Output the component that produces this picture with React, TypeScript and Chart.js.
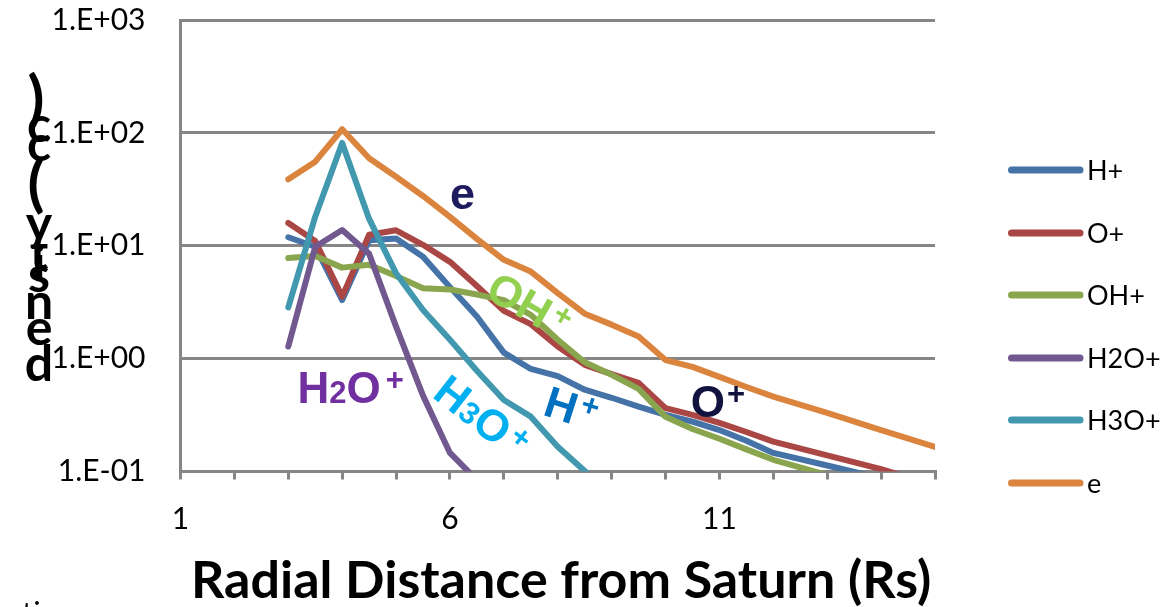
import { useEffect, useRef } from "react";
import { Chart, registerables } from "chart.js";

Chart.register(...registerables);

// ---- data ----
const radius = [3, 3.5, 4, 4.5, 5, 5.5, 6, 6.5, 7, 7.5, 8, 8.5, 9, 9.5, 10, 10.5, 11, 11.5, 12, 13, 14, 15];
const hPlus = [11.9, 9.8, 3.3, 11.2, 11.6, 8.0, 4.3, 2.36, 1.13, 0.81, 0.7, 0.53, 0.45, 0.376, 0.317, 0.277, 0.233, 0.187, 0.146, 0.113, 0.087, null];
const oPlus = [15.9, 11.0, 3.54, 12.5, 13.7, 10.2, 7.2, 4.4, 2.65, 2.02, 1.28, 0.88, 0.73, 0.61, 0.364, 0.317, 0.27, 0.224, 0.184, 0.139, 0.105, 0.075];
const ohPlus = [7.8, 8.1, 6.4, 6.8, 5.4, 4.2, 4.1, 3.7, 3.3, 2.44, 1.47, 0.93, 0.72, 0.54, 0.305, 0.238, 0.195, 0.157, 0.127, 0.093, 0.07, null];
const h2oPlus = [1.28, 9.8, 13.8, 8.5, 1.92, 0.47, 0.146, 0.084, null, null, null, null, null, null, null, null, null, null, null, null, null, null];
const h3oPlus = [2.84, 18.1, 81.4, 17.3, 5.7, 2.7, 1.47, 0.78, 0.43, 0.306, 0.166, 0.101, 0.06, null, null, null, null, null, null, null, null, null];
const electrons = [38.8, 55.6, 107.6, 59.6, 40.9, 27.6, 18, 11.5, 7.5, 5.9, 3.8, 2.5, 2.0, 1.57, 0.97, 0.845, 0.69, 0.56, 0.46, 0.33, 0.233, 0.165];

const seriesNames = ["H+", "O+", "OH+", "H2O+", "H3O+", "e"];
const seriesValues = [hPlus, oPlus, ohPlus, h2oPlus, h3oPlus, electrons];
const seriesColors = ["#4572A7", "#AA4643", "#89A54E", "#71588F", "#4198AF", "#DB843D"];

const yTickValues = [0.1, 1, 10, 100, 1000];
const yTickLabels = ["1.E-01", "1.E+00", "1.E+01", "1.E+02", "1.E+03"];
const xLabelValues = [1, 6, 11];

const xTitle = "Radial Distance from Saturn (Rs)";
const yTitle = "density (cc)";

// in-plot labels (anchored in data coordinates)
const annotations = [
  { color: "#1E1B5E", x: 6.0, y: 21.0, angle: 0, parts: [{ t: "e", s: 45 }] },
  { color: "#12123F", x: 10.47, y: 0.306, angle: 0, parts: [{ t: "O", s: 44 }, { t: "+", s: 31, dy: -13, gap: 2 }] },
  { color: "#7030A0", x: 3.17, y: 0.405, angle: 0, parts: [{ t: "H", s: 44 }, { t: "2", s: 31 }, { t: "O", s: 44 }, { t: "+", s: 31, dy: -13, gap: 5 }] },
  { color: "#92D050", x: 6.62, y: 3.56, angle: 30, parts: [{ t: "O", s: 44 }, { t: "H", s: 44 }, { t: "+", s: 31, dy: -13, gap: 4 }] },
  { color: "#00B0F0", x: 5.65, y: 0.462, angle: 38, parts: [{ t: "H", s: 44 }, { t: "3", s: 31 }, { t: "O", s: 44 }, { t: "+", s: 31, dy: -13, gap: 4 }] },
  { color: "#0070C0", x: 7.7, y: 0.32, angle: 18, parts: [{ t: "H", s: 44 }, { t: "+", s: 31, dy: -13, gap: 3 }] },
];

const GRAY = "#868686";

const decorPlugin = {
  id: "decor",
  afterDraw(chart: any) {
    const ctx: CanvasRenderingContext2D = chart.ctx;
    const xs = chart.scales.x;
    const ys = chart.scales.y;

    // annotations
    for (const a of annotations) {
      const px = xs.getPixelForValue(a.x);
      const py = ys.getPixelForValue(a.y);
      ctx.save();
      ctx.translate(px, py);
      ctx.rotate((a.angle * Math.PI) / 180);
      ctx.fillStyle = a.color;
      ctx.textAlign = "left";
      ctx.textBaseline = "alphabetic";
      let cx = 0;
      for (const p of a.parts as any[]) {
        ctx.font = `bold ${p.s}px "Liberation Sans", Arial, sans-serif`;
        cx += p.gap || 0;
        ctx.fillText(p.t, cx, p.dy || 0);
        cx += ctx.measureText(p.t).width;
      }
      ctx.restore();
    }

    // legend
    const legendY = [170, 233, 295, 358, 420, 483];
    ctx.save();
    seriesNames.forEach((name, i) => {
      const y = legendY[i];
      ctx.strokeStyle = seriesColors[i];
      ctx.lineWidth = 7;
      ctx.lineCap = "round";
      ctx.beginPath();
      ctx.moveTo(1011.5, y);
      ctx.lineTo(1080, y);
      ctx.stroke();
      ctx.fillStyle = "#000";
      ctx.font = '27px Lato, "Liberation Sans", sans-serif';
      ctx.textAlign = "left";
      ctx.textBaseline = "alphabetic";
      ctx.fillText(name, 1087, y + 10);
    });
    ctx.restore();

    // x axis title
    ctx.save();
    ctx.fillStyle = "#000";
    ctx.font = 'bold 52px Lato, "Liberation Sans", sans-serif';
    ctx.textAlign = "left";
    ctx.textBaseline = "alphabetic";
    ctx.fillText(xTitle, 191, 598);
    ctx.restore();

    // garbled vertical y title (glyphs stacked bottom to top)
    const centers = [362, 332, 306, 279, 262, 253, 232, 210, 185, 148, 129, 100];
    ctx.save();
    ctx.fillStyle = "#000";
    ctx.textAlign = "center";
    ctx.textBaseline = "alphabetic";
    const chars = yTitle.split("");
    chars.forEach((ch, i) => {
      if (ch === " ") return;
      const paren = ch === "(" || ch === ")";
      ctx.font = `bold ${paren ? 62 : 50}px Lato, "Liberation Sans", sans-serif`;
      const m = ctx.measureText(ch);
      const asc = m.actualBoundingBoxAscent;
      const desc = m.actualBoundingBoxDescent;
      const cy = centers[i];
      ctx.fillText(ch, paren ? 36 : 39, cy + (asc - desc) / 2);
    });
    ctx.restore();

    // clipped fragment at bottom-left
    ctx.save();
    ctx.fillStyle = "#000";
    ctx.font = '30px Lato, "Liberation Sans", sans-serif';
    ctx.fillText("ti", 22, 624);
    ctx.restore();
  },
};

export default function App() {
  const ref = useRef<HTMLCanvasElement>(null);
  useEffect(() => {
    document.body.style.margin = "0";
    const datasets = seriesNames.map((name, i) => ({
      label: name,
      data: radius.map((r, j) => ({ x: r, y: seriesValues[i][j] })),
      borderColor: seriesColors[i],
      backgroundColor: seriesColors[i],
      borderWidth: 6,
      pointRadius: 0,
      pointHoverRadius: 0,
      tension: 0,
      borderJoinStyle: "round" as const,
      borderCapStyle: "round" as const,
      spanGaps: false,
      clip: 0,
      order: seriesNames.length - i,
    }));
    const chart = new Chart(ref.current!, {
      type: "line",
      data: { datasets },
      options: {
        animation: false,
        responsive: false,
        events: [],
        layout: { padding: { left: 0, top: 20, right: 237, bottom: 0 } },
        plugins: { legend: { display: false }, tooltip: { enabled: false }, title: { display: false } },
        scales: {
          x: {
            type: "linear",
            min: 1,
            max: 15,
            ticks: {
              stepSize: 1,
              autoSkip: false,
              maxRotation: 0,
              padding: 22,
              color: "#000",
              font: { family: 'Lato, "Liberation Sans", sans-serif', size: 30 },
              callback: (v: any) => (xLabelValues.includes(Number(v)) ? String(v) : ""),
            },
            grid: { drawOnChartArea: false, drawTicks: true, tickLength: 8, color: GRAY, lineWidth: 3 },
            border: { display: true, color: GRAY, width: 3 },
            afterFit: (s: any) => {
              s.height = 135.5;
              s.paddingLeft = 0;
              s.paddingRight = 0;
              s.paddingTop = 0;
              s.paddingBottom = 0;
            },
          },
          y: {
            type: "logarithmic",
            min: 0.1,
            max: 1000,
            afterBuildTicks: (s: any) => {
              s.ticks = yTickValues.map((v) => ({ value: v, major: true }));
            },
            ticks: {
              padding: 35,
              color: "#000",
              font: { family: 'Lato, "Liberation Sans", sans-serif', size: 30 },
              callback: (v: any) => {
                const i = yTickValues.findIndex((t) => Math.abs(t - Number(v)) < 1e-9 * Math.max(1, t));
                return i >= 0 ? yTickLabels[i] : "";
              },
            },
            grid: { drawTicks: false, color: GRAY, lineWidth: 3 },
            border: { display: true, color: GRAY, width: 3 },
            afterFit: (s: any) => {
              s.width = 180.5;
              s.paddingLeft = 0;
              s.paddingRight = 0;
              s.paddingTop = 0;
              s.paddingBottom = 0;
            },
          },
        },
      } as any,
      plugins: [decorPlugin],
    });
    return () => chart.destroy();
  }, []);
  return (
    <div style={{ width: 1172, height: 607, position: "relative", background: "#fff" }}>
      <canvas ref={ref} width={1172} height={607} style={{ display: "block" }} />
    </div>
  );
}
